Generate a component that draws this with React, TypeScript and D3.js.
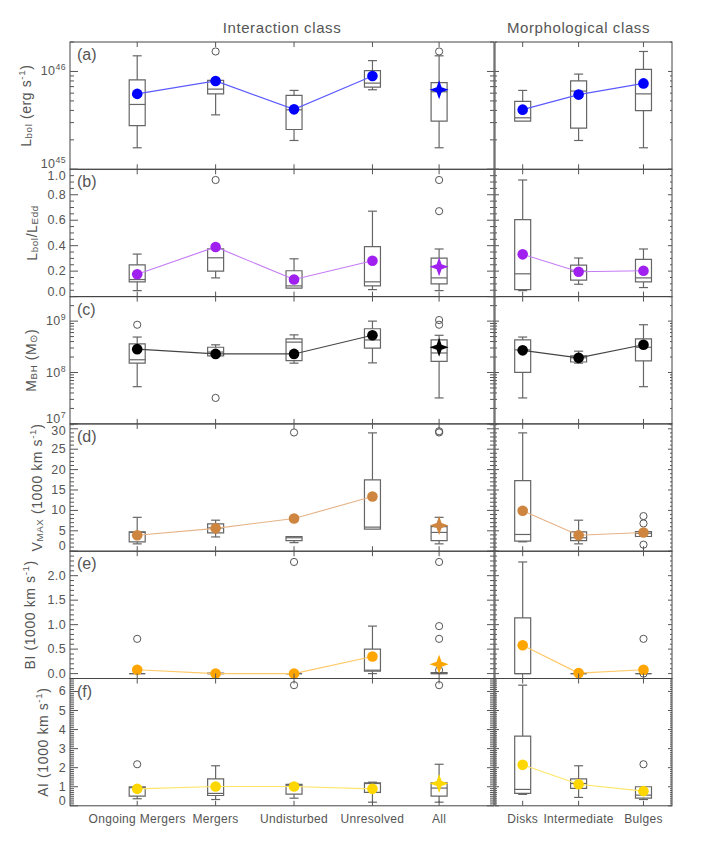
import React from "react";
import * as d3 from "d3";

// ---------------- DATA ----------------
const interactionCats = ["Ongoing Mergers", "Mergers", "Undisturbed", "Unresolved", "All"];
const morphCats = ["Disks", "Intermediate", "Bulges"];

// box stats: [whiskerLow, q1, median, q3, whiskerHigh]
// (a) Lbol
const lbolBoxInt = [
  [1.66e45, 2.8e45, 4.6e45, 8.2e45, 1.445e46],
  [3.6e45, 5.9e45, 6.6e45, 8.1e45, 8.1e45],
  [1.97e45, 2.55e45, 4.05e45, 5.7e45, 6.4e45],
  [6.5e45, 6.9e45, 7.6e45, 1.02e46, 1.29e46],
  [1.66e45, 3.1e45, 6.2e45, 7.7e45, 1.445e46],
];
const lbolMeanInt = [5.9e45, 8.0e45, 4.1e45, 9.0e45, 6.5e45];
const lbolOutInt = [[], [1.6e46], [], [], [1.6e46]];
const lbolBoxMorph = [
  [3.1e45, 3.1e45, 3.36e45, 4.95e45, 6.4e45],
  [1.97e45, 2.63e45, 6.3e45, 8.0e45, 9.4e45],
  [1.66e45, 3.98e45, 5.9e45, 1.05e46, 1.6e46],
];
const lbolMeanMorph = [4.07e45, 5.8e45, 7.55e45];
const lbolOutMorph = [[], [], []];

// (b) Lbol/LEdd
const eddBoxInt = [
  [0.047, 0.116, 0.134, 0.25, 0.334],
  [0.147, 0.2, 0.305, 0.376, 0.376],
  [0.063, 0.066, 0.084, 0.203, 0.297],
  [0.055, 0.084, 0.116, 0.392, 0.671],
  [0.047, 0.1, 0.147, 0.303, 0.374],
];
const eddMeanInt = [0.176, 0.39, 0.134, 0.282, 0.234];
const eddOutInt = [[], [0.916], [], [], [0.916, 0.671]];
const eddBoxMorph = [
  [0.047, 0.055, 0.179, 0.605, 0.916],
  [0.097, 0.129, 0.2, 0.247, 0.303],
  [0.071, 0.116, 0.147, 0.292, 0.374],
];
const eddMeanMorph = [0.332, 0.195, 0.203];
const eddOutMorph = [[], [], []];

// (c) MBH
const mbhBoxInt = [
  [5.3e7, 1.52e8, 1.77e8, 3.6e8, 4.9e8],
  [2.1e8, 2.1e8, 2.5e8, 3.1e8, 3.46e8],
  [1.52e8, 1.71e8, 3.9e8, 4.5e8, 5.4e8],
  [1.54e8, 2.98e8, 4.3e8, 7.1e8, 1.0e9],
  [3.2e7, 1.64e8, 2.4e8, 4.3e8, 5.3e8],
];
const mbhMeanInt = [2.85e8, 2.3e8, 2.3e8, 5.3e8, 3.1e8];
const mbhOutInt = [[8.5e8], [3.2e7], [], [], [1.05e9, 8.5e8]];
const mbhBoxMorph = [
  [3.2e7, 1.01e8, 2.76e8, 4.3e8, 4.9e8],
  [1.52e8, 1.6e8, 1.93e8, 2.1e8, 2.6e8],
  [5.3e7, 1.69e8, 3.1e8, 4.5e8, 8.5e8],
];
const mbhMeanMorph = [2.7e8, 1.93e8, 3.46e8];
const mbhOutMorph = [[], [], []];

// (d) VMAX
const vmaxBoxInt = [
  [1.8, 2.3, 4.6, 4.75, 8.3],
  [3.5, 4.5, 5.7, 6.7, 7.6],
  [2.1, 2.6, 3.3, 3.6, 3.7],
  [5.3, 5.4, 5.9, 17.5, 29.0],
  [1.8, 2.6, 4.6, 6.0, 8.3],
];
const vmaxMeanInt = [3.9, 5.6, 8.0, 13.4, 6.3];
const vmaxOutInt = [[], [], [29.1], [], [29.1, 29.4]];
const vmaxBoxMorph = [
  [2.3, 2.45, 4.1, 17.3, 29.0],
  [1.8, 2.6, 3.3, 4.75, 7.6],
  [3.6, 3.6, 4.4, 4.8, 4.8],
];
const vmaxMeanMorph = [9.9, 3.9, 4.6];
const vmaxOutMorph = [[], [], [8.6, 6.8, 1.6]];

// (e) BI
const biBoxInt = [
  [0, 0, 0, 0, 0],
  [0, 0, 0, 0.01, 0.01],
  [0, 0, 0, 0, 0],
  [0, 0.05, 0.07, 0.5, 0.97],
  [0, 0, 0, 0.02, 0.02],
];
const biMeanInt = [0.08, 0.0, 0.0, 0.35, 0.19];
const biOutInt = [[0.71], [], [2.28], [], [2.28, 0.97, 0.71, 0.07]];
const biBoxMorph = [
  [0, 0, 0, 1.14, 2.28],
  [0, 0, 0, 0, 0],
  [0, 0, 0, 0, 0],
];
const biMeanMorph = [0.58, 0.01, 0.08];
const biOutMorph = [[], [0.02], [0.71, 0.0]];

// (f) AI
const aiBoxInt = [
  [0.37, 0.51, 0.95, 1.0, 1.0],
  [0.33, 0.54, 0.65, 1.41, 2.1],
  [0.4, 0.61, 1.08, 1.12, 1.17],
  [0.19, 0.7, 1.17, 1.2, 1.24],
  [0.19, 0.51, 0.93, 1.2, 2.18],
];
const aiMeanInt = [0.89, 1.01, 1.01, 0.89, 1.17];
const aiOutInt = [[2.18], [], [6.33], [], [6.33]];
const aiBoxMorph = [
  [0.6, 0.65, 0.86, 3.66, 6.33],
  [0.44, 0.91, 1.17, 1.41, 2.1],
  [0.33, 0.4, 0.56, 1.0, 1.01],
];
const aiMeanMorph = [2.15, 1.13, 0.77];
const aiOutMorph = [[], [], [2.18]];

// ---------------- LAYOUT ----------------
const FONT = "'Liberation Sans', Arial, sans-serif";
const TXT = "#555";
const TOP = 42;
const PH = 127.3;
const LEFT = { x0: 70, x1: 494, domain: [0.143, 5.55], pos: [1, 2, 3, 4, 4.85] };
const RIGHT = { x0: 495, x1: 672, domain: [0.505, 3.67], pos: [1, 2, 3.16] };

type Spec = {
  key: string;
  log: boolean;
  domain: number[];
  majors?: number[];
  minorStep?: number;
  fmt?: (v: number) => string;
  color: string;
  line: string;
  labelX: number;
  label: React.ReactNode;
  int: { box: number[][]; mean: number[]; out: number[][] };
  morph: { box: number[][]; mean: number[]; out: number[][] };
};

const sub = (t: string) => (
  <tspan baselineShift="-25%" fontSize="0.7em">{t}</tspan>
);
const sup = (t: string) => (
  <tspan baselineShift="45%" fontSize="0.7em">{t}</tspan>
);

const specs: Spec[] = [
  {
    key: "a", log: true, domain: [1e45, 2e46], color: "#0000ff", line: "#5a5aff", labelX: 26,
    label: <>L{sub("bol")} (erg s{sup("-1")})</>,
    int: { box: lbolBoxInt, mean: lbolMeanInt, out: lbolOutInt },
    morph: { box: lbolBoxMorph, mean: lbolMeanMorph, out: lbolOutMorph },
  },
  {
    key: "b", log: false, domain: [0, 1.0], majors: d3.range(0, 1.0001, 0.2), minorStep: 0.05,
    fmt: d3.format(".1f"), color: "#a020f0", line: "#c57af5", labelX: 32,
    label: <>L{sub("bol")}/L{sub("Edd")}</>,
    int: { box: eddBoxInt, mean: eddMeanInt, out: eddOutInt },
    morph: { box: eddBoxMorph, mean: eddMeanMorph, out: eddOutMorph },
  },
  {
    key: "c", log: true, domain: [1e7, 3e9], color: "#000000", line: "#444", labelX: 31,
    label: <>M{sub("BH")} (M{sub("\u2299")})</>,
    int: { box: mbhBoxInt, mean: mbhMeanInt, out: mbhOutInt },
    morph: { box: mbhBoxMorph, mean: mbhMeanMorph, out: mbhOutMorph },
  },
  {
    key: "d", log: false, domain: [0, 31.2], majors: d3.range(0, 31, 5), minorStep: 1,
    fmt: d3.format("d"), color: "#cd853f", line: "#e6b285", labelX: 37,
    label: <>V{sub("MAX")} (1000 km s{sup("-1")})</>,
    int: { box: vmaxBoxInt, mean: vmaxMeanInt, out: vmaxOutInt },
    morph: { box: vmaxBoxMorph, mean: vmaxMeanMorph, out: vmaxOutMorph },
  },
  {
    key: "e", log: false, domain: [-0.1, 2.5], majors: d3.range(0, 2.01, 0.5), minorStep: 0.1,
    fmt: d3.format(".1f"), color: "#ffa500", line: "#ffc866", labelX: 30,
    label: <>BI (1000 km s{sup("-1")})</>,
    int: { box: biBoxInt, mean: biMeanInt, out: biOutInt },
    morph: { box: biBoxMorph, mean: biMeanMorph, out: biOutMorph },
  },
  {
    key: "f", log: false, domain: [0, 6.68], majors: d3.range(0, 6.01, 1), minorStep: 0.1,
    fmt: d3.format("d"), color: "#ffd700", line: "#ffe566", labelX: 43,
    label: <>AI (1000 km s{sup("-1")})</>,
    int: { box: aiBoxInt, mean: aiMeanInt, out: aiOutInt },
    morph: { box: aiBoxMorph, mean: aiMeanMorph, out: aiOutMorph },
  },
];

function starPath(cx: number, cy: number, r: number, k: number) {
  return `M${cx},${cy - r}L${cx + k},${cy - k}L${cx + r},${cy}L${cx + k},${cy + k}L${cx},${cy + r}L${cx - k},${cy + k}L${cx - r},${cy}L${cx - k},${cy - k}Z`;
}

function Side({ spec, side, data, y, hasAll }: any) {
  const x = d3.scaleLinear().domain(side.domain).range([side.x0, side.x1]);
  const pos: number[] = side.pos;
  const bw = 8;
  const cw = 4.5;
  const nLine = hasAll ? pos.length - 1 : pos.length;
  const linePts = data.mean.slice(0, nLine).map((m: number, i: number) => [x(pos[i]), y(m)]);
  const lineGen = d3.line();
  return (
    <g>
      {data.box.map((b: number[], i: number) => {
        const cx = x(pos[i]);
        const [lo, q1, md, q3, hi] = b.map((v: number) => y(v));
        return (
          <g key={i} stroke="#666" strokeWidth={1.2} fill="none">
            {hi < q3 - 0.5 && <line x1={cx} x2={cx} y1={hi} y2={q3} />}
            {hi < q3 - 0.5 && <line x1={cx - cw} x2={cx + cw} y1={hi} y2={hi} />}
            {lo > q1 + 0.5 && <line x1={cx} x2={cx} y1={q1} y2={lo} />}
            {lo > q1 + 0.5 && <line x1={cx - cw} x2={cx + cw} y1={lo} y2={lo} />}
            <path d={`M${cx - bw},${q3}H${cx + bw}V${q1}H${cx - bw}Z`} />
            <line x1={cx - bw} x2={cx + bw} y1={md} y2={md} />
          </g>
        );
      })}
      {data.out.map((os: number[], i: number) =>
        os.map((o: number, j: number) => (
          <circle key={`${i}-${j}`} cx={x(pos[i])} cy={y(o)} r={3.6} fill="none" stroke="#555" strokeWidth={1} />
        ))
      )}
      <path d={lineGen(linePts as any) || ""} fill="none" stroke={spec.line} strokeWidth={1.1} />
      {data.mean.map((m: number, i: number) =>
        hasAll && i === pos.length - 1 ? (
          <path key={i} d={starPath(x(pos[i]), y(m), 9.5, 2.5)} fill={spec.color} />
        ) : (
          <circle key={i} cx={x(pos[i])} cy={y(m)} r={5.3} fill={spec.color} />
        )
      )}
      {pos.map((p: number, i: number) => (
        <g key={"t" + i} stroke="#555" strokeWidth={1}>
          <line x1={x(p)} x2={x(p)} y1={y.range()[1]} y2={y.range()[1] + 5} />
          <line x1={x(p)} x2={x(p)} y1={y.range()[0]} y2={y.range()[0] - 5} />
        </g>
      ))}
    </g>
  );
}

function Panel({ spec, idx }: { spec: Spec; idx: number }) {
  const top = TOP + idx * PH;
  const bottom = top + PH;
  const y: any = spec.log
    ? d3.scaleLog().domain(spec.domain).range([bottom, top])
    : d3.scaleLinear().domain(spec.domain).range([bottom, top]);

  let majors: number[];
  let minors: number[];
  if (spec.log) {
    const all = (y as any).ticks() as number[];
    majors = all.filter((v) => Math.abs(Math.log10(v) - Math.round(Math.log10(v))) < 1e-9);
    minors = all.filter((v) => !majors.includes(v));
  } else {
    majors = spec.majors!;
    const [d0, d1] = spec.domain;
    const st = spec.minorStep!;
    minors = d3
      .range(Math.ceil(d0 / st - 1e-9), Math.floor(d1 / st + 1e-9) + 1)
      .map((k) => k * st)
      .filter((v) => !majors.some((m) => Math.abs(m - v) < 1e-9));
  }

  const tickSet = (xAxis: number, dir: number, lenMaj: number, lenMin: number, key: string) => (
    <g key={key} stroke="#555" strokeWidth={1}>
      {majors.map((v, i) => (
        <line key={"M" + i} x1={xAxis} x2={xAxis + dir * lenMaj} y1={y(v)} y2={y(v)} />
      ))}
      {minors.map((v, i) => (
        <line key={"m" + i} x1={xAxis} x2={xAxis + dir * lenMin} y1={y(v)} y2={y(v)} />
      ))}
    </g>
  );

  const labelY = (v: number) => Math.max(top + 7, Math.min(bottom - 5, y(v)));

  return (
    <g>
      <rect x={LEFT.x0} y={top} width={LEFT.x1 - LEFT.x0} height={PH} fill="none" stroke="#444" strokeWidth={1} />
      <rect x={RIGHT.x0} y={top} width={RIGHT.x1 - RIGHT.x0} height={PH} fill="none" stroke="#444" strokeWidth={1} />
      {tickSet(LEFT.x0, 1, 8, 4, "l")}
      {tickSet(LEFT.x1, -1, 7, 4, "lr")}
      {tickSet(RIGHT.x0, 1, 4, 2, "rl")}
      {tickSet(RIGHT.x1, -1, 4, 2, "rr")}
      {majors.map((v, i) => (
        <text key={"tl" + i} x={66} y={labelY(v)} textAnchor="end" dominantBaseline="central"
          fontFamily={FONT} fontSize={12.5} fill={TXT} letterSpacing={0.4}>
          {spec.log ? (
            <>
              10<tspan baselineShift="50%" fontSize="0.7em">{Math.round(Math.log10(v))}</tspan>
            </>
          ) : (
            spec.fmt!(v)
          )}
        </text>
      ))}
      <text x={77} y={top + 18} fontFamily={FONT} fontSize={16} fill={TXT}>({spec.key})</text>
      <text transform={`translate(${spec.labelX},${top + PH / 2}) rotate(-90)`} textAnchor="middle"
        dominantBaseline="central" fontFamily={FONT} fontSize={14} fill={TXT} letterSpacing={0.6}>
        {spec.label}
      </text>
      <Side spec={spec} side={LEFT} data={spec.int} y={y} hasAll={true} />
      <Side spec={spec} side={RIGHT} data={spec.morph} y={y} hasAll={false} />
    </g>
  );
}

export default function App() {
  const bottom = TOP + specs.length * PH;
  const xl = d3.scaleLinear().domain(LEFT.domain).range([LEFT.x0, LEFT.x1]);
  const xr = d3.scaleLinear().domain(RIGHT.domain).range([RIGHT.x0, RIGHT.x1]);
  return (
    <svg width={706} height={848} style={{ position: "absolute", left: 0, top: 0, background: "#fff" }}>
      <rect width={706} height={848} fill="#fff" />
      <text x={(LEFT.x0 + LEFT.x1) / 2} y={33} textAnchor="middle" fontFamily={FONT} fontSize={15}
        fill={TXT} letterSpacing={0.6}>Interaction class</text>
      <text x={(RIGHT.x0 + RIGHT.x1) / 2 - 5} y={33} textAnchor="middle" fontFamily={FONT} fontSize={15}
        fill={TXT} letterSpacing={0.6}>Morphological class</text>
      {specs.map((s, i) => (
        <Panel key={s.key} spec={s} idx={i} />
      ))}
      {interactionCats.map((c, i) => (
        <text key={c} x={xl(LEFT.pos[i])} y={bottom + 17} textAnchor="middle" fontFamily={FONT}
          fontSize={12} fill={TXT} letterSpacing={0.3}>{c}</text>
      ))}
      {morphCats.map((c, i) => (
        <text key={c} x={xr(RIGHT.pos[i])} y={bottom + 17} textAnchor="middle" fontFamily={FONT}
          fontSize={12} fill={TXT} letterSpacing={0.3}>{c}</text>
      ))}
    </svg>
  );
}
